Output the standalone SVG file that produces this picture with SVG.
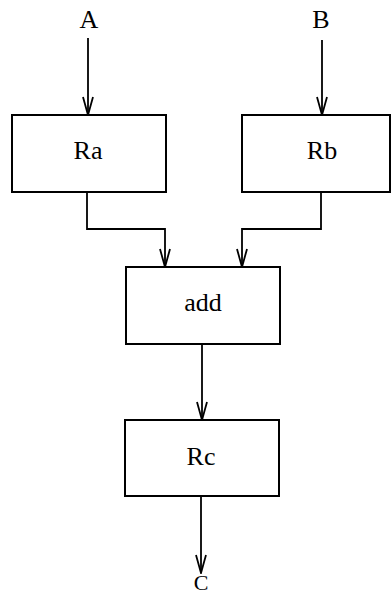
<svg xmlns="http://www.w3.org/2000/svg" width="391" height="596" viewBox="0 0 391 596">
<style>
.box{fill:#fff;stroke:#000;stroke-width:2}
.lbl{font-family:"Liberation Serif","Times New Roman",serif;font-size:26px;fill:#000;text-anchor:middle}
.wire{fill:none;stroke:#000;stroke-width:1.8}
</style>
<defs>
<marker id="arr" markerUnits="userSpaceOnUse" markerWidth="20" markerHeight="14" viewBox="0 0 20 14" refX="19" refY="7" orient="auto">
<path d="M1,2 L19,7 L1,12" fill="none" stroke="#000" stroke-width="1.8"/>
</marker>
</defs>
<rect width="391" height="596" fill="#fff"/>
<g id="connectors">
<path class="wire" d="M88,38 V115" marker-end="url(#arr)"/>
<path class="wire" d="M322,40 V115" marker-end="url(#arr)"/>
<path class="wire" d="M87,192 V229 H165 V267" marker-end="url(#arr)"/>
<path class="wire" d="M321,192 V229 H242 V267" marker-end="url(#arr)"/>
<path class="wire" d="M202,344 V420" marker-end="url(#arr)"/>
<path class="wire" d="M201,496 V573" marker-end="url(#arr)"/>
</g>
<g id="A"><text class="lbl" x="89" y="28">A</text></g>
<g id="B"><text class="lbl" x="321" y="28">B</text></g>
<g id="Ra"><rect class="box" x="12" y="115" width="154" height="77"/><text class="lbl" x="88" y="159">Ra</text></g>
<g id="Rb"><rect class="box" x="242" y="115" width="148" height="77"/><text class="lbl" x="322" y="159">Rb</text></g>
<g id="add"><rect class="box" x="126" y="267" width="154" height="77"/><text class="lbl" x="203" y="311">add</text></g>
<g id="Rc"><rect class="box" x="125" y="420" width="154" height="76"/><text class="lbl" x="201" y="465">Rc</text></g>
<g id="C"><text class="lbl" x="201" y="590" style="font-size:22px">C</text></g>
</svg>
